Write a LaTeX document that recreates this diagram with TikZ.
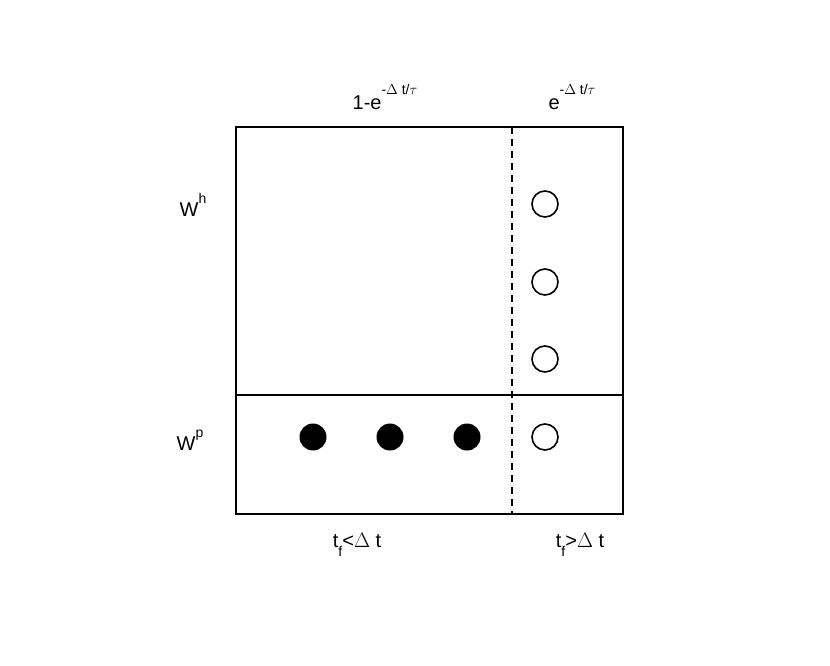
\documentclass[tikz,border=0pt]{standalone}
\usepackage{fontspec}
\setmainfont{Liberation Sans}
\begin{document}
\begin{tikzpicture}[x=1pt,y=-1pt,
  lbl/.style={font=\fontsize{20}{24}\selectfont, inner sep=0pt},
  open/.style={circle,draw,line width=1.6pt,minimum size=26pt,inner sep=0pt},
  full/.style={circle,fill,minimum size=27pt,inner sep=0pt}]
\useasboundingbox (0,0) rectangle (830,665);
\draw[line width=1.6pt] (236,127) rectangle (623,514);
\coordinate (la) at (236,395); \coordinate (lb) at (623,395);
\draw[line width=1.6pt] (la) -- (lb);
\coordinate (da) at (512,127); \coordinate (db) at (512,514);
\draw[line width=1.6pt,dash pattern=on 7pt off 5pt] (da) -- (db);
\foreach \y/\n in {204/a,282/b,359/c,437/d} \node[open] (o\n) at (545,\y) {};
\foreach \x/\n in {313/a,390/b,467/c} \node[full] (f\n) at (\x,437) {};
\node[lbl] (t1) at (385,97) {1-e\raisebox{1.5ex}{\fontsize{14}{16}\selectfont -$\Delta$ t/$\tau$}};
\node[lbl] (t2) at (572,97) {e\raisebox{1.5ex}{\fontsize{14}{16}\selectfont -$\Delta$ t/$\tau$}};
\node[lbl] (wh) at (193,205) {W\raisebox{1.2ex}{\fontsize{14}{16}\selectfont h}};
\node[lbl] (wp) at (190,440) {W\raisebox{1.2ex}{\fontsize{14}{16}\selectfont p}};
\node[lbl] (b1) at (357,545) {t\raisebox{-0.8ex}{\fontsize{14}{16}\selectfont f}<$\Delta$ t};
\node[lbl] (b2) at (580,545) {t\raisebox{-0.8ex}{\fontsize{14}{16}\selectfont f}>$\Delta$ t};
\end{tikzpicture}
\end{document}
